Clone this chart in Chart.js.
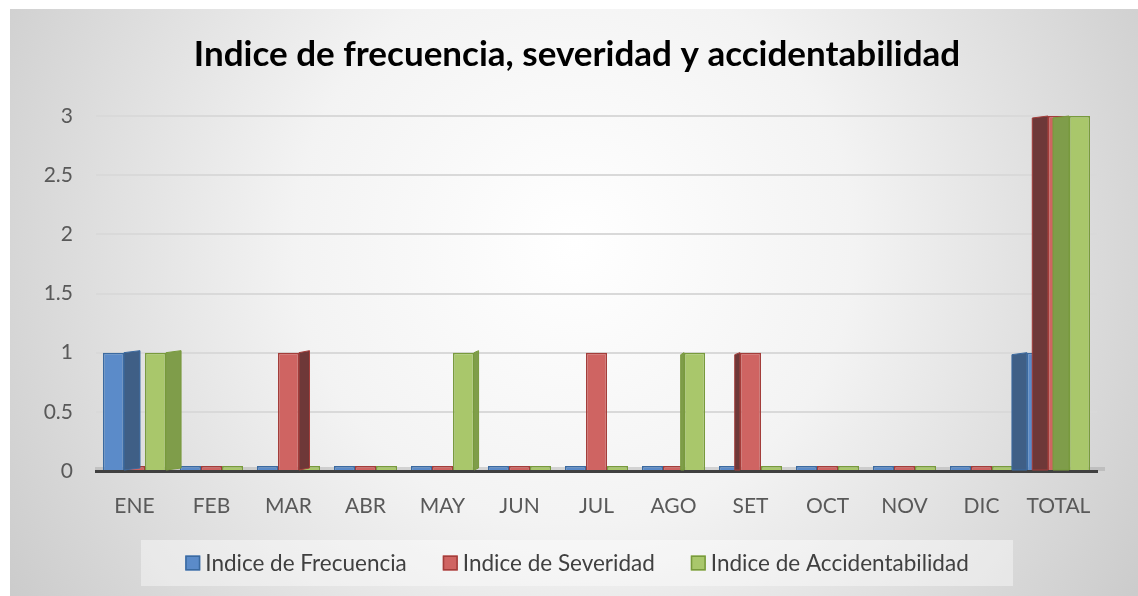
<!DOCTYPE html>
<html>
<head>
<meta charset="utf-8">
<script src="https://cdn.jsdelivr.net/npm/chart.js@4.4.1/dist/chart.umd.min.js"></script>
<style>
  html, body { margin: 0; padding: 0; background: #ffffff; }
  #wrap { position: absolute; left: 10px; top: 9px; width: 1128px; height: 587px; }
</style>
</head>
<body>
<div id="wrap"><canvas id="c"></canvas></div>
<script>
const categories = ['ENE','FEB','MAR','ABR','MAY','JUN','JUL','AGO','SET','OCT','NOV','DIC','TOTAL'];
const frecuencia      = [1,0,0,0,0,0,0,0,0,0,0,0,1];
const severidad       = [0,0,1,0,0,0,1,0,1,0,0,0,3];
const accidentabilidad= [1,0,0,0,1,0,0,1,0,0,0,0,3];
const yTicks = [0,0.5,1,1.5,2,2.5,3];
const seriesNames = ['Indice de Frecuencia','Indice de Severidad','Indice de Accidentabilidad'];
const fillColors = ['#5b8bc9','#cf6462','#a9c76b'];
const edgeColors = ['#3b6aa0','#a33d3a','#789a3c'];
const sideColors = ['#3f5f86','#6e3838','#7f9d4a'];

const bgPlugin = {
  id: 'bg',
  afterLayout(chart) {
    // let the y tick labels use the space of the left layout padding (avoids label clipping)
    chart.scales.y.left = 0;
  },
  beforeDraw(chart) {
    const {ctx, width, height} = chart;
    ctx.save();
    const g = ctx.createRadialGradient(width*0.5, height*0.4, 0, width*0.5, height*0.4, width*0.62);
    g.addColorStop(0, '#ffffff');
    g.addColorStop(0.4, '#f3f3f3');
    g.addColorStop(1, '#c8c8c8');
    ctx.fillStyle = g;
    ctx.fillRect(0, 0, width, height);
    ctx.fillStyle = 'rgba(255,255,255,0.4)';
    ctx.fillRect(131, 531, 872, 46);
    const a = chart.chartArea;
    ctx.fillStyle = 'rgba(150,150,150,0.35)';
    ctx.fillRect(a.left - 1, a.bottom - 4, a.right - a.left + 9, 4);
    ctx.restore();
  }
};

const sidePlugin = {
  id: 'side3d',
  afterDatasetsDraw(chart) {
    const ctx = chart.ctx;
    const cx = (chart.chartArea.left + chart.chartArea.right) / 2;
    ctx.save();
    chart.data.datasets.forEach((ds, di) => {
      const meta = chart.getDatasetMeta(di);
      meta.data.forEach((bar, i) => {
        if (!ds.data[i]) return;
        const p = bar.getProps(['x','y','base','width'], true);
        const d = p.x - cx;
        const s = Math.min(16, Math.abs(d) * 0.034);
        if (s < 2) return;
        const left = p.x - p.width / 2, right = p.x + p.width / 2;
        ctx.fillStyle = sideColors[di];
        ctx.strokeStyle = edgeColors[di];
        ctx.lineWidth = 1;
        ctx.beginPath();
        if (d < 0) {
          ctx.moveTo(right, p.y); ctx.lineTo(right + s, p.y - 2);
          ctx.lineTo(right + s, p.base - 2); ctx.lineTo(right, p.base);
        } else {
          ctx.moveTo(left, p.y); ctx.lineTo(left - s, p.y + 2);
          ctx.lineTo(left - s, p.base); ctx.lineTo(left, p.base);
        }
        ctx.closePath();
        ctx.fill(); ctx.stroke();
      });
    });
    ctx.restore();
  }
};

const legendPlugin = {
  id: 'legendBox',
  afterDraw(chart) {
    const ctx = chart.ctx;
    ctx.save();
    ctx.font = '22.5px Lato';
    ctx.textBaseline = 'middle';
    const box = 15, gap = 5, itemGap = 36, cy = 554, center = 567;
    const items = chart.data.datasets.map((ds, i) => ({
      text: ds.label, w: box + gap + ctx.measureText(ds.label).width, i
    }));
    const total = items.reduce((s, it) => s + it.w, 0) + itemGap * (items.length - 1);
    let x = center - total / 2;
    items.forEach(it => {
      ctx.fillStyle = fillColors[it.i];
      ctx.strokeStyle = edgeColors[it.i];
      ctx.lineWidth = 1.5;
      ctx.fillRect(x, cy - box / 2, box, box);
      ctx.strokeRect(x + 0.75, cy - box / 2 + 0.75, box - 1.5, box - 1.5);
      ctx.fillStyle = '#404040';
      ctx.fillText(it.text, x + box + gap, cy + 1);
      x += it.w + itemGap;
    });
    ctx.restore();
  }
};

new Chart(document.getElementById('c'), {
  type: 'bar',
  data: {
    labels: categories,
    datasets: seriesNames.map((n, k) => ({
      label: n,
      data: [frecuencia, severidad, accidentabilidad][k],
      backgroundColor: fillColors[k],
      borderColor: edgeColors[k],
      borderWidth: 1.5
    }))
  },
  plugins: [bgPlugin, sidePlugin, legendPlugin],
  options: {
    responsive: true,
    maintainAspectRatio: false,
    animation: false,
    devicePixelRatio: 1,
    layout: { padding: { left: 47, right: 41, top: 14, bottom: 80 } },
    datasets: { bar: { categoryPercentage: 0.82, barPercentage: 1.0, minBarLength: 5 } },
    plugins: {
      title: {
        display: true,
        text: 'Indice de frecuencia, severidad y accidentabilidad',
        color: '#000000',
        font: { family: 'Lato', size: 35, weight: 'bold' },
        padding: { top: 11, bottom: 40 }
      },
      legend: { display: false },
      tooltip: { enabled: false }
    },
    scales: {
      x: {
        afterFit(s) { s.height = 45; },
        grid: { display: false },
        border: { display: true, color: '#404040', width: 3 },
        ticks: { color: '#595959', font: { family: 'Lato', size: 21 }, padding: 15 }
      },
      y: {
        min: 0, max: 3,
        afterFit(s) { s.width = 39; },
        afterBuildTicks(scale) { scale.ticks = yTicks.map(v => ({ value: v })); },
        grid: { color: '#d9d9d9', lineWidth: 2, drawTicks: false },
        border: { display: false },
        ticks: { color: '#595959', font: { family: 'Lato', size: 21 }, padding: 23,
                 callback: v => String(v) }
      }
    }
  }
});
</script>
</body>
</html>
